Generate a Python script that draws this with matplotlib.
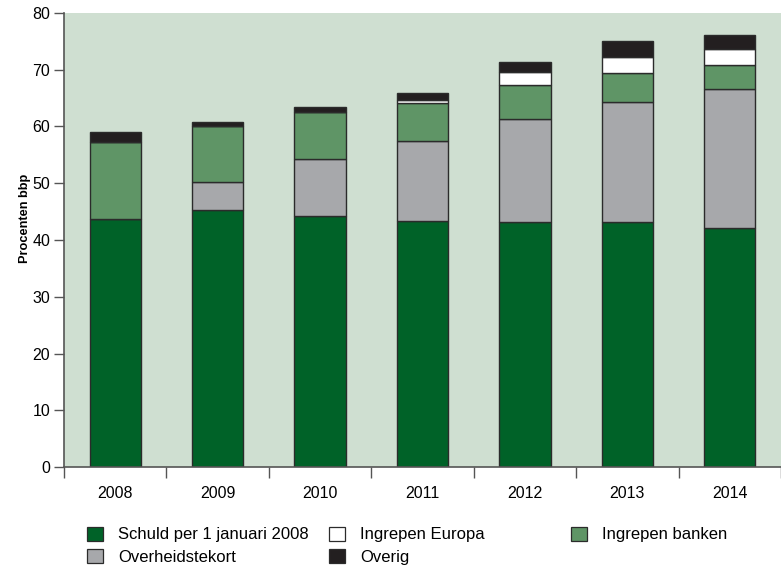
import matplotlib
matplotlib.use("Agg")
import matplotlib.pyplot as plt
from matplotlib.patches import Patch
import numpy as np

years = ["2008", "2009", "2010", "2011", "2012", "2013", "2014"]
schuld = [43.7, 45.2, 44.2, 43.3, 43.2, 43.1, 42.2]
tekort = [0.0, 5.0, 10.0, 14.1, 18.2, 21.3, 24.4]
banken = [13.6, 9.8, 8.4, 6.7, 6.0, 5.1, 4.3]
europa = [0.0, 0.0, 0.0, 0.6, 2.2, 2.7, 2.7]
overig = [1.7, 0.8, 0.9, 1.2, 1.8, 2.9, 2.6]

labels = ["Schuld per 1 januari 2008", "Overheidstekort", "Ingrepen banken",
          "Ingrepen Europa", "Overig"]
colors = ["#006228", "#a7a8ab", "#5f9566", "#ffffff", "#231f20"]
series = [schuld, tekort, banken, europa, overig]

plt.rcParams['font.family'] = ['Liberation Sans', 'DejaVu Sans']

fig = plt.figure(figsize=(7.81, 5.74), dpi=100)
ax = fig.add_axes([64/781, 1-467/574, 1-64/781, (467-13)/574])
ax.set_facecolor("#cfdfd1")

x = np.arange(len(years))
bottom = np.zeros(len(years))
handles = {}
for vals, lab, col in zip(series, labels, colors):
    v = np.array(vals)
    ax.bar(x, v, width=0.5, bottom=bottom, color=col, edgecolor="#2b2b2b",
           linewidth=1.0, zorder=2)
    handles[lab] = Patch(facecolor=col, edgecolor="#2b2b2b", linewidth=0.9, label=lab)
    bottom += v

ax.set_xlim(-0.5, len(years) - 0.5)
ax.set_ylim(0, 80)
ax.set_yticks(np.arange(0, 81, 10))
ax.set_xticks(x)
ax.set_xticklabels(years, fontsize=11.5)
ax.set_xticks(np.arange(-0.5, len(years), 1.0), minor=True)
ax.tick_params(axis='x', which='major', length=0, pad=14)
ax.tick_params(axis='x', which='minor', length=8, width=1, color="#555555", direction='out')
ax.tick_params(axis='y', length=7, width=1, color="#555555", labelsize=11.5, pad=3)
for s in ["top", "right"]:
    ax.spines[s].set_visible(False)
for s in ["left", "bottom"]:
    ax.spines[s].set_color("#555555")
    ax.spines[s].set_linewidth(1.2)
ax.set_ylabel("Procenten bbp", fontsize=9.2, fontweight='bold')
ax.yaxis.set_label_coords(-0.046, 0.547)

cols = [(["Schuld per 1 januari 2008", "Overheidstekort"], 87),
        (["Ingrepen Europa", "Overig"], 329),
        (["Ingrepen banken"], 571)]
for names, xpix in cols:
    fig.legend(handles=[handles[n] for n in names], labels=names, ncol=1,
               loc='upper left', bbox_to_anchor=(xpix/781, 1-526.5/574),
               frameon=False, fontsize=12, handlelength=0.96, handleheight=0.93,
               handletextpad=0.9, labelspacing=0.4, borderpad=0, borderaxespad=0)

fig.savefig("out.png", dpi=100)
